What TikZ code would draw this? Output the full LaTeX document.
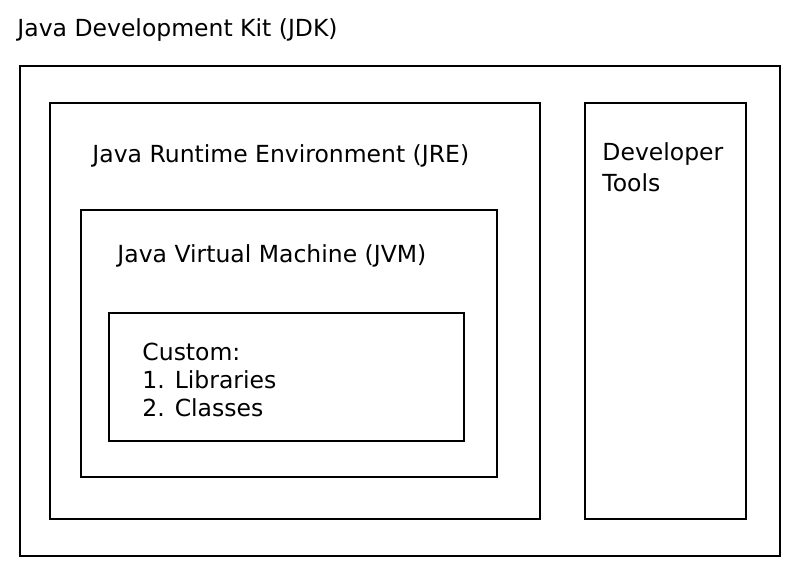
\documentclass[tikz,border=0pt]{standalone}
\usepackage{fontspec}
\setmainfont{DejaVu Sans}
\usetikzlibrary{calc}
\usetikzlibrary{positioning}
\tikzstyle{boxnode} = [draw, rectangle, line width=1.5pt, inner sep=0pt]
\tikzstyle{labelnode} = [anchor=base west, inner sep=0pt, font=\fontsize{23.5}{28}\selectfont, align=left]

\begin{document}
\begin{tikzpicture}[x=1pt, y=-1pt]
    \useasboundingbox (0,0) rectangle (802,577);
    \node[boxnode, minimum width=760pt, minimum height=490pt] (jdk) at (400,311) {};
    \node[labelnode] (jdk_label) at ($(jdk.north west)+(-2,-29)$) {Java Development Kit (JDK)};
    \node[boxnode, minimum width=490pt, minimum height=416pt] (jre) at (295,311) {};
    \node[labelnode] (jre_label) at ($(jre.north west)+(43,60)$) {Java Runtime Environment (JRE)};
    \node[boxnode, minimum width=416pt, minimum height=267pt] (jvm) at (289,343.5) {};
    \node[labelnode] (jvm_label) at ($(jvm.north west)+(37,53)$) {Java Virtual Machine (JVM)};
    \node[boxnode, minimum width=355pt, minimum height=128pt] (custom) at (286.5,377) {};
    \node[labelnode] (custom_label) at ($(custom.north west)+(34,104)$) {Custom:\\1. Libraries\\2. Classes};
    \node[boxnode, minimum width=161pt, minimum height=416pt] (tools) at (665.5,311) {};
    \node[labelnode, font=\fontsize{23.5}{30.5}\selectfont] (tools_label) at ($(tools.north west)+(18,89)$) {Developer\\Tools};
\end{tikzpicture}
\end{document}
